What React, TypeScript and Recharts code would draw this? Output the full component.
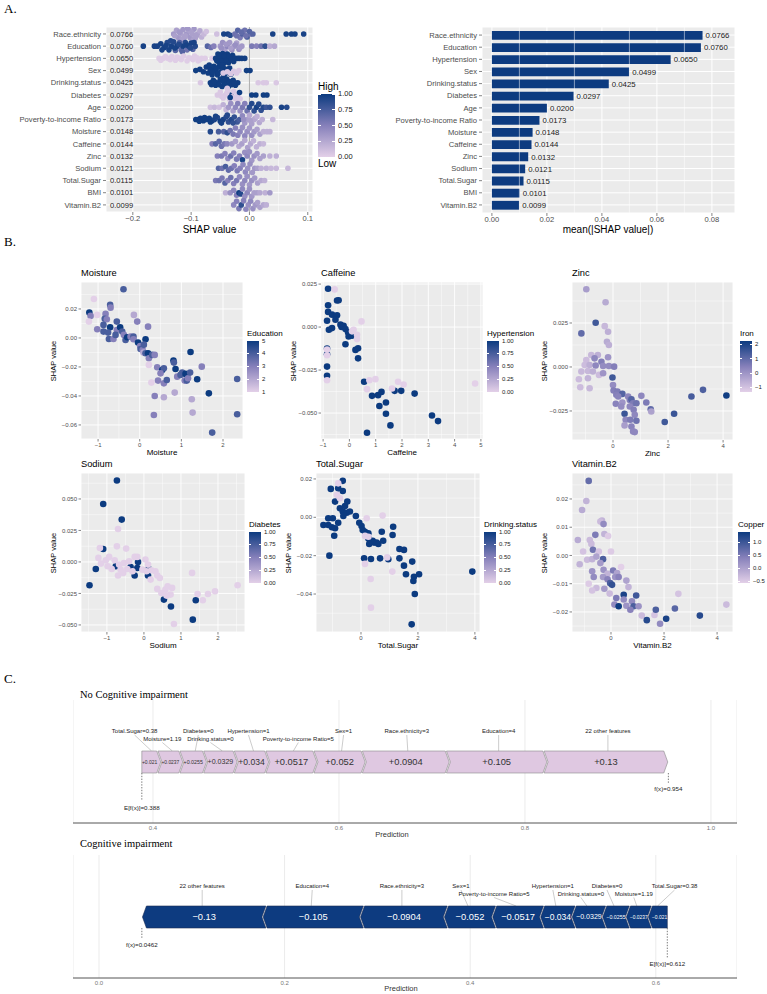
import React from 'react';
import {
  ScatterChart,
  Scatter,
  BarChart,
  Bar,
  XAxis,
  YAxis,
  CartesianGrid,
  ReferenceLine,
  LabelList,
} from 'recharts';

const SANS = '"Liberation Sans", Arial, Helvetica, sans-serif';
const SERIF = '"Liberation Serif", "Times New Roman", serif';

// ---------- A. global importance ----------
const features = [
  'Race.ethnicity', 'Education', 'Hypertension', 'Sex', 'Drinking.status', 'Diabetes', 'Age',
  'Poverty-to-income Ratio', 'Moisture', 'Caffeine', 'Zinc', 'Sodium', 'Total.Sugar', 'BMI', 'Vitamin.B2',
];
const meanAbsShap = [0.0766, 0.076, 0.065, 0.0499, 0.0425, 0.0297, 0.02, 0.0173, 0.0148, 0.0144, 0.0132, 0.0121, 0.0115, 0.0101, 0.0099];

// beeswarm points per feature: [shap value, jitter within the row, scaled feature value]
const swarmRaceEthnicity = [
  [-0.13, 0, 0.35], [-0.125, -0.3, 0.3], [-0.122, 0.3, 0.35], [-0.118, 0, 0.3], [-0.114, -0.35, 0.35], [-0.112, 0.35, 0.3],
  [-0.108, 0, 0.35], [-0.104, -0.3, 0.3], [-0.102, 0.3, 0.35], [-0.098, 0, 0.3], [-0.095, -0.4, 0.35], [-0.093, 0.35, 0.3],
  [-0.089, 0, 0.3], [-0.085, -0.25, 0.25], [-0.082, 0.25, 0.2], [-0.078, 0, 0.15], [-0.074, -0.2, 0.1], [-0.056, 0, 0.1],
  [-0.128, 0.15, 0.3], [-0.12, -0.15, 0.35], [-0.11, 0.15, 0.3], [-0.1, -0.15, 0.3], [-0.091, 0.15, 0.3], [-0.116, 0.45, 0.3],
  [-0.106, -0.45, 0.35], [-0.096, 0.45, 0.3], [-0.044, 0, 0.95], [-0.037, 0, 0.95], [-0.033, 0.1, 0.9], [-0.025, 0, 0.6],
  [-0.02, -0.3, 0.7], [-0.016, 0.3, 0.55], [-0.012, 0, 0.7], [-0.008, -0.3, 0.6], [-0.004, 0.25, 0.75], [0.002, 0, 0.6],
  [0.006, 0, 0.7], [-0.022, 0.15, 0.6], [-0.014, -0.15, 0.65], [-0.006, 0.15, 0.6], [0, -0.2, 0.7], [0.04, 0, 0.95],
  [0.063, 0, 0.95], [0.072, 0, 0.95], [0.078, 0, 0.95], [0.093, 0, 0.95],
];
const swarmEducation = [
  [-0.182, 0, 0.95], [-0.163, 0, 0.95], [-0.158, 0, 0.95], [-0.152, -0.2, 0.95], [-0.146, 0.1, 0.95], [-0.141, -0.3, 0.9],
  [-0.138, 0.3, 0.95], [-0.134, 0, 0.95], [-0.13, -0.35, 0.9], [-0.127, 0.35, 0.7], [-0.124, 0, 0.95], [-0.12, -0.3, 0.7],
  [-0.117, 0.3, 0.65], [-0.114, 0, 0.95], [-0.11, -0.3, 0.9], [-0.107, 0.3, 0.6], [-0.104, 0, 0.9], [-0.1, -0.25, 0.95],
  [-0.097, 0.25, 0.7], [-0.093, 0, 0.9], [-0.15, 0.3, 0.95], [-0.143, -0.05, 0.95], [-0.135, -0.45, 0.9], [-0.128, 0.15, 0.95],
  [-0.121, -0.15, 0.9], [-0.115, 0.45, 0.7], [-0.108, -0.1, 0.95], [-0.101, 0.15, 0.9], [-0.095, -0.3, 0.95], [-0.072, 0, 0.7],
  [-0.066, 0.1, 0.6], [-0.061, 0, 0.5], [-0.05, 0, 0.35], [-0.046, -0.3, 0.4], [-0.042, 0.3, 0.3], [-0.038, 0, 0.45],
  [-0.034, -0.3, 0.35], [-0.03, 0.3, 0.4], [-0.026, 0, 0.35], [-0.022, -0.25, 0.3], [-0.018, 0.25, 0.4], [-0.013, 0, 0.35],
  [-0.048, 0.15, 0.4], [-0.04, -0.15, 0.35], [-0.032, 0.15, 0.3], [-0.024, -0.1, 0.4], [-0.016, 0.1, 0.35], [0.004, 0, 0.55],
  [0.012, 0, 0.5], [0.02, 0, 0.6], [0.027, 0, 0.85], [0.035, 0, 0.2], [0.043, 0, 0.25],
];
const swarmHypertension = [
  [-0.155, 0, 0.02], [-0.148, 0, 0.02], [-0.14, 0, 0.02], [-0.133, -0.15, 0.02], [-0.127, 0.15, 0.02], [-0.12, 0, 0.02],
  [-0.113, -0.2, 0.02], [-0.107, 0.2, 0.02], [-0.1, 0, 0.02], [-0.094, -0.2, 0.02], [-0.088, 0.2, 0.02], [-0.082, 0, 0.02],
  [-0.152, 0.15, 0.02], [-0.144, -0.15, 0.02], [-0.136, 0.1, 0.02], [-0.124, -0.1, 0.02], [-0.117, 0.1, 0.02], [-0.104, -0.05, 0.02],
  [-0.097, 0.1, 0.02], [-0.09, -0.05, 0.02], [-0.085, 0.1, 0.02], [-0.076, 0, 0.02], [-0.064, 0, 0.02], [-0.058, 0, 0.98],
  [-0.054, -0.35, 0.98], [-0.052, 0.35, 0.98], [-0.049, 0, 0.98], [-0.046, -0.4, 0.98], [-0.044, 0.4, 0.98], [-0.041, 0, 0.98],
  [-0.038, -0.35, 0.98], [-0.036, 0.35, 0.98], [-0.033, 0, 0.98], [-0.029, -0.25, 0.98], [-0.027, 0.25, 0.98], [-0.056, 0.2, 0.98],
  [-0.051, -0.15, 0.98], [-0.047, 0.2, 0.98], [-0.043, -0.2, 0.98], [-0.039, 0.15, 0.98], [-0.035, -0.15, 0.98], [-0.031, 0.1, 0.98],
  [-0.024, 0, 0.98], [-0.02, 0, 0.98], [-0.017, 0, 0.98], [-0.013, 0, 0.98], [-0.008, 0, 0.98],
];
const swarmSex = [
  [-0.092, 0, 0.98], [-0.085, -0.1, 0.98], [-0.079, 0.1, 0.98], [-0.074, -0.3, 0.98], [-0.071, 0.2, 0.98], [-0.067, -0.1, 0.98],
  [-0.064, 0.35, 0.98], [-0.061, -0.35, 0.98], [-0.058, 0, 0.98], [-0.055, 0.35, 0.98], [-0.052, -0.3, 0.98], [-0.049, 0.1, 0.98],
  [-0.045, -0.25, 0.98], [-0.042, 0.25, 0.98], [-0.038, 0, 0.98], [-0.034, -0.2, 0.98], [-0.032, 0.3, 0.98], [-0.069, -0.45, 0.98],
  [-0.063, 0.1, 0.98], [-0.057, -0.2, 0.98], [-0.053, 0.2, 0.98], [-0.047, -0.45, 0.98], [-0.044, 0.45, 0.98], [-0.04, -0.1, 0.98],
  [-0.036, 0.15, 0.98], [-0.045, 0.2, 0.05], [-0.038, 0.1, 0.05], [-0.032, 0.25, 0.05], [-0.027, 0.05, 0.05], [-0.022, 0.2, 0.05],
  [-0.018, 0, 0.05], [-0.005, 0, 0.98], [0.001, 0, 0.98],
];
const swarmDrinkingStatus = [
  [-0.084, 0, 0.05], [-0.067, 0, 0.98], [-0.062, -0.2, 0.98], [-0.058, 0.2, 0.98], [-0.054, 0, 0.98], [-0.05, -0.3, 0.98],
  [-0.047, 0.3, 0.98], [-0.043, 0, 0.98], [-0.039, -0.3, 0.98], [-0.036, 0.3, 0.98], [-0.032, 0, 0.98], [-0.028, -0.2, 0.98],
  [-0.024, 0.2, 0.98], [-0.02, 0, 0.98], [-0.065, 0.15, 0.98], [-0.06, -0.1, 0.98], [-0.052, 0.15, 0.98], [-0.045, -0.15, 0.98],
  [-0.041, 0.15, 0.98], [-0.034, -0.1, 0.98], [-0.03, 0.15, 0.98], [-0.026, -0.05, 0.98], [-0.038, 0.45, 0.05], [0.015, 0, 0.05],
  [0.024, 0, 0.05], [0.029, 0, 0.05], [0.046, 0, 0.05],
];
const swarmDiabetes = [
  [-0.055, 0, 0.05], [-0.05, -0.25, 0.05], [-0.045, 0.25, 0.05], [-0.041, 0, 0.05], [-0.037, -0.35, 0.05], [-0.034, 0.35, 0.05],
  [-0.031, 0, 0.98], [-0.027, -0.3, 0.05], [-0.024, 0.3, 0.05], [-0.02, 0, 0.05], [-0.017, -0.2, 0.98], [-0.016, 0.3, 0.05],
  [-0.048, 0.1, 0.05], [-0.039, -0.15, 0.05], [-0.029, 0.15, 0.05], [-0.033, 0.2, 0.98], [0.004, 0, 0.98], [0.011, 0, 0.98],
  [0.024, 0, 0.98], [0.03, 0, 0.98],
];
const swarmAge = [
  [-0.067, 0, 0.1], [-0.06, 0, 0.15], [-0.052, 0, 0.1], [-0.045, -0.2, 0.2], [-0.04, 0.2, 0.15], [-0.036, 0, 0.35],
  [-0.032, -0.3, 0.4], [-0.028, 0.3, 0.3], [-0.024, 0, 0.45], [-0.02, -0.3, 0.5], [-0.016, 0.3, 0.4], [-0.012, 0, 0.55],
  [-0.008, -0.3, 0.5], [-0.004, 0.3, 0.6], [0, 0, 0.85], [0.004, -0.3, 0.9], [0.008, 0.3, 0.85], [0.012, 0, 0.95],
  [0.016, -0.25, 0.9], [0.02, 0.25, 0.85], [0.024, 0, 0.9], [0.029, 0, 0.8], [0.035, 0, 0.85], [0.055, 0, 0.95],
  [0.064, 0, 0.9],
];
const swarmPoverty = [
  [-0.092, 0, 0.98], [-0.088, 0, 0.98], [-0.084, -0.1, 0.98], [-0.079, 0.1, 0.98], [-0.074, 0, 0.98], [-0.069, -0.1, 0.98],
  [-0.064, 0.1, 0.98], [-0.06, 0, 0.95], [-0.055, -0.15, 0.9], [-0.05, 0.15, 0.98], [-0.045, 0, 0.95], [-0.04, -0.2, 0.9],
  [-0.036, 0.2, 0.85], [-0.031, 0, 0.9], [-0.026, -0.2, 0.85], [-0.021, 0.2, 0.8], [-0.017, 0, 0.75], [-0.086, 0.15, 0.98],
  [-0.077, -0.15, 0.98], [-0.067, 0.2, 0.98], [-0.058, -0.25, 0.95], [-0.048, 0.3, 0.95], [-0.038, -0.35, 0.9], [-0.028, 0.3, 0.85],
  [-0.012, -0.3, 0.45], [-0.008, 0.3, 0.35], [-0.004, 0, 0.3], [0, -0.35, 0.25], [0.004, 0.35, 0.3], [0.008, 0, 0.25],
  [-0.01, 0, 0.4], [0.002, 0.1, 0.3], [0.01, -0.1, 0.25], [0.013, -0.25, 0.2], [0.017, 0.25, 0.25], [0.022, 0, 0.2],
  [0.04, 0, 0.15],
];
const swarmMoisture = [
  [-0.067, 0, 0.9], [-0.053, 0, 0.75], [-0.044, 0, 0.7], [-0.038, 0.1, 0.85], [-0.033, -0.1, 0.6], [-0.028, 0.2, 0.55],
  [-0.024, -0.3, 0.5], [-0.02, 0.3, 0.5], [-0.016, 0, 0.45], [-0.012, -0.35, 0.4], [-0.008, 0.35, 0.45], [-0.004, 0, 0.4],
  [0, -0.3, 0.35], [0.004, 0.3, 0.4], [0.008, 0, 0.35], [0.013, -0.2, 0.3], [0.018, 0.2, 0.3], [0.024, 0, 0.2],
  [0.03, 0, 0.2], [0.035, 0, 0.2],
];
const swarmCaffeine = [
  [-0.064, 0, 0.5], [-0.058, 0, 0.7], [-0.052, -0.2, 0.65], [-0.048, 0.2, 0.6], [-0.043, 0, 0.55], [-0.038, 0, 0.45],
  [-0.03, 0, 0.35], [-0.024, -0.2, 0.3], [-0.018, 0.2, 0.25], [-0.013, 0, 0.3], [-0.008, -0.3, 0.25], [-0.003, 0.3, 0.3],
  [0.002, 0, 0.25], [0.007, -0.25, 0.2], [0.012, 0.25, 0.2], [0.018, 0, 0.2], [0.024, 0, 0.15],
];
const swarmZinc = [
  [-0.055, 0, 0.5], [-0.048, 0, 0.55], [-0.042, -0.2, 0.5], [-0.037, 0.2, 0.45], [-0.032, 0, 0.6], [-0.027, -0.25, 0.5],
  [-0.022, 0.25, 0.55], [-0.017, 0, 0.5], [-0.012, 0.3, 0.95], [-0.008, -0.3, 0.4], [-0.004, 0, 0.45], [0, -0.35, 0.4],
  [0.004, 0.35, 0.35], [0.008, 0, 0.4], [0.013, -0.2, 0.35], [0.018, 0.2, 0.3], [0.024, 0, 0.3], [0.035, 0, 0.2],
  [0.046, 0, 0.2],
];
const swarmSodium = [
  [-0.053, 0, 0.7], [-0.047, 0, 0.6], [-0.041, -0.15, 0.75], [-0.036, 0.15, 0.65], [-0.031, 0, 0.6], [-0.026, -0.2, 0.5],
  [-0.021, 0.2, 0.55], [-0.016, 0, 0.5], [-0.011, -0.3, 0.45], [-0.007, 0.3, 0.45], [-0.003, 0, 0.4], [0.001, -0.35, 0.4],
  [0.005, 0.35, 0.35], [0.009, 0, 0.35], [0.014, 0, 0.3], [0.02, 0, 0.2], [0.029, 0, 0.2], [0.037, 0, 0.15],
  [0.046, 0, 0.15], [0.066, 0, 0.15],
];
const swarmTotalSugar = [
  [-0.058, 0, 0.55], [-0.052, 0, 0.6], [-0.047, -0.2, 0.55], [-0.042, 0.2, 0.7], [-0.037, 0, 0.5], [-0.032, -0.25, 0.6],
  [-0.027, 0.25, 0.5], [-0.022, 0, 0.55], [-0.017, -0.3, 0.45], [-0.012, 0.3, 0.4], [-0.008, 0, 0.45], [-0.004, -0.35, 0.4],
  [0, 0.35, 0.35], [0.004, 0, 0.4], [0.009, -0.2, 0.35], [0.014, 0.2, 0.3], [0.02, 0, 0.25], [0.026, 0, 0.2],
];
const swarmBMI = [
  [-0.041, 0, 0.2], [-0.033, 0, 0.4], [-0.027, -0.2, 0.45], [-0.022, 0.2, 0.5], [-0.018, 0, 0.98], [-0.015, 0.1, 0.9],
  [-0.012, -0.3, 0.45], [-0.008, 0.3, 0.4], [-0.004, 0, 0.45], [0, -0.3, 0.4], [0.004, 0.3, 0.35], [0.008, 0, 0.3],
  [0.013, 0, 0.3], [0.018, 0, 0.25], [0.027, 0, 0.2], [0.035, 0, 0.35],
];
const swarmVitaminB2 = [
  [-0.027, 0, 0.45], [-0.022, -0.3, 0.5], [-0.018, 0.3, 0.55], [-0.014, 0, 0.85], [-0.01, -0.35, 0.5], [-0.006, 0.35, 0.45],
  [-0.002, 0, 0.4], [0.002, -0.3, 0.45], [0.006, 0.3, 0.4], [0.01, 0, 0.35], [0.014, -0.2, 0.3], [0.018, 0.2, 0.3],
  [0.024, 0, 0.25], [0.029, 0, 0.2],
];
const swarmRows = [
  swarmRaceEthnicity, swarmEducation, swarmHypertension, swarmSex, swarmDrinkingStatus, swarmDiabetes, swarmAge,
  swarmPoverty, swarmMoisture, swarmCaffeine, swarmZinc, swarmSodium, swarmTotalSugar, swarmBMI, swarmVitaminB2,
];

// ---------- B. dependence plots: [feature value, shap value, colouring feature] ----------
const depMoisture = [
  [-0.39, 0.0336, 4], [-1.1, 0.0269, 1], [-1.21, 0.0175, 5], [-1.18, 0.0152, 3], [-1.22, 0.0113, 1], [-1.02, 0.0159, 1],
  [-0.71, 0.0228, 4], [-0.7, 0.0209, 3], [-0.82, 0.0166, 3], [-0.84, 0.0133, 4], [-0.79, 0.0129, 3], [-1.02, 0.006, 3],
  [-0.87, 0.009, 4], [-0.87, 0.0044, 4], [-0.71, 0.0074, 5], [-0.76, 0.0037, 4], [-0.74, -0.0007, 4], [-0.63, -0.0007, 3],
  [-0.55, 0.0113, 4], [-0.55, 0.0055, 3], [-0.58, 0.0021, 4], [-0.47, 0.0074, 5], [-0.42, 0.0044, 4], [-0.38, 0.0021, 3],
  [-0.34, -0.0014, 4], [-0.3, 0.0005, 5], [-0.22, 0.0009, 3], [-0.15, 0.0009, 4], [-0.15, -0.0009, 3], [-0.14, 0.0159, 2],
  [-0.06, 0.0113, 3], [-0.04, -0.0032, 5], [0.01, -0.0055, 3], [0.02, -0.0076, 4], [0.07, -0.0083, 3], [0.09, -0.0101, 2],
  [0.14, -0.0009, 5], [0.1, -0.0046, 4], [0.2, 0.0078, 3], [0.14, -0.0106, 4], [0.2, -0.0106, 5], [0.22, -0.014, 3],
  [0.3, -0.0117, 4], [0.36, -0.0117, 3], [0.22, -0.0186, 1], [0.28, -0.0308, 1], [0.42, -0.0202, 3], [0.54, -0.0221, 5],
  [0.58, -0.0209, 4], [0.5, -0.0244, 3], [0.44, -0.0294, 3], [0.58, -0.0313, 3], [0.65, -0.029, 4], [0.36, -0.04, 3],
  [0.34, -0.0531, 3], [0.58, -0.0409, 2], [0.81, -0.0156, 5], [0.82, -0.017, 4], [0.86, -0.0214, 5], [0.9, -0.0267, 3],
  [0.98, -0.0255, 4], [1.02, -0.0239, 4], [1.08, -0.0294, 3], [1.1, -0.0248, 5], [1.13, -0.0294, 4], [1.16, -0.0278, 3],
  [1.22, -0.0097, 5], [1.21, -0.0239, 4], [1.25, -0.0423, 2], [1.27, -0.0515, 2], [1.38, -0.0285, 5], [1.49, -0.0198, 3],
  [0.84, -0.0377, 2], [1.66, -0.0382, 5], [1.74, -0.0653, 4], [2.34, -0.0283, 4], [2.34, -0.0526, 4],
];
const depCaffeine = [
  [-0.81, 0.0223, 1], [-0.81, 0.0127, 1], [-0.81, 0.0088, 1], [-0.85, 0.0037, 1], [-0.78, -0.0016, 1], [-0.85, -0.023, 1],
  [-0.85, -0.0283, 1], [-0.66, 0.0072, 1], [-0.66, -0.0006, 1], [-0.47, 0.0154, 1], [-0.41, 0.0156, 1], [-0.47, 0.0068, 1],
  [-0.53, 0.0043, 1], [-0.34, 0.0014, 1], [-0.3, 0, 1], [-0.22, 0.0008, 1], [-0.15, -0.0012, 1], [-0.05, -0.0031, 1],
  [-0.03, -0.0055, 1], [0.1, -0.0051, 1], [-0.15, -0.01, 1], [0.23, -0.0133, 1], [0.33, -0.0123, 1], [0.33, -0.0182, 1],
  [0.56, -0.0318, 1], [0.86, -0.04, 1], [1.09, -0.0396, 1], [1.22, -0.0377, 1], [1.14, -0.0459, 1], [1.39, -0.0439, 1],
  [1.39, -0.0504, 1], [1.56, -0.0572, 1], [1.72, -0.0371, 1], [1.97, -0.0371, 1], [2.48, -0.0387, 1], [3.14, -0.0514, 1],
  [3.37, -0.0547, 1], [0.67, -0.0615, 1], [-0.85, -0.0125, 1], [-0.85, -0.0158, 1],
  [-0.56, 0.0219, 0], [-0.85, -0.0131, 0], [-0.85, -0.0164, 0], [-0.85, -0.0309, 0], [0.46, 0.0033, 0], [0.16, -0.0016, 0],
  [0.29, -0.0045, 0], [0.29, -0.007, 0], [0.99, -0.0303, 0], [0.76, -0.0309, 0], [0.67, -0.0361, 0], [1.62, -0.0357, 0],
  [1.85, -0.0318, 0], [2.06, -0.0334, 0], [4.78, -0.0328, 0], [0.1, -0.0025, 0],
];
const depZinc = [
  [-0.97, 0.0442, -0.2], [-0.27, 0.0368, -0.5], [-0.63, 0.0251, 1.5], [-0.3, 0.0232, -0.8], [-0.18, 0.02, -0.6], [-1.15, 0.0191, 1],
  [-0.22, 0.0143, -0.5], [-0.15, 0.0125, -0.6], [-0.18, 0.0055, 0], [-0.79, 0.0068, -0.8], [-0.55, 0.0068, -0.6], [-0.67, 0.0049, 0.3],
  [-0.42, 0.003, 0.5], [-0.97, 0.004, -0.9], [-1.03, 0.0011, -0.9], [-0.85, 0.0011, -0.6], [-0.63, 0.0008, 0.3], [-0.36, 0.0006, 0.2],
  [-0.15, 0.0006, 0.2], [0.04, 0.0002, 0.5], [-1.15, -0.0026, -0.8], [-0.91, -0.0023, -0.8], [-0.73, -0.0026, -0.6], [-0.51, -0.0045, -0.9],
  [-0.36, -0.0036, 0], [-1.24, -0.007, -0.9], [-0.91, -0.0064, -0.7], [-1.19, -0.0115, -0.9], [-0.85, -0.0121, -0.8], [-0.02, -0.006, 1.5],
  [0, -0.0102, 0.2], [0.02, -0.0134, 0.5], [0.16, -0.014, 0.6], [0.34, -0.0153, 1.2], [0.12, -0.0158, 0.5], [0.19, -0.0168, 0.4],
  [0.1, -0.0209, 0.4], [0.34, -0.0202, 0], [0.3, -0.0225, 0.2], [0.55, -0.0168, 0.3], [0.61, -0.0187, 0.5], [0.67, -0.0183, 1.2],
  [0.73, -0.0206, 0.6], [0.85, -0.0206, 0.8], [0.61, -0.0225, 0.3], [0.75, -0.0243, 0.5], [0.42, -0.0266, 1.6], [0.79, -0.0272, 0.3],
  [0.46, -0.03, 0.3], [0.63, -0.03, 0.6], [0.85, -0.0306, 0.8], [0.42, -0.0332, -0.2], [0.67, -0.0338, 0.4], [0.73, -0.0366, 0.3],
  [0.79, -0.037, 0.3], [1.03, -0.0164, 0.3], [1.21, -0.0202, 0.6], [1.37, -0.024, 1], [1.39, -0.0253, -0.3], [1.88, -0.0313, 1.5],
  [2.22, -0.0266, 1.6], [2.85, -0.0168, 1.4], [3.27, -0.013, 1.3], [4.12, -0.0162, 2.2],
];
const depSodium = [
  [-0.73, 0.0646, 1], [-1.1, 0.046, 1], [-0.6, 0.0336, 1], [-1.1, 0.0103, 1], [-1.3, -0.0056, 1], [-1.47, -0.0185, 1],
  [-0.76, -0.0034, 1], [-0.36, -0.004, 1], [-0.18, -0.0048, 1], [-0.16, 0, 1], [-0.25, -0.0108, 1], [0.11, -0.0108, 1],
  [0.13, -0.0056, 1], [0.54, -0.0299, 1], [0.73, -0.0354, 1], [1.4, -0.0304, 1], [1.32, -0.0458, 1],
  [-0.7, 0.0262, 0], [-0.73, 0.0124, 0], [-0.48, 0.0106, 0], [-1.19, 0.0111, 0], [-1.23, 0.0032, 0], [-1.16, -0.0013, 0],
  [-1.03, 0.0013, 0], [-0.94, 0.004, 0], [-0.98, -0.0034, 0], [-0.87, -0.0056, 0], [-0.79, 0.0013, 0], [-0.67, -0.0021, 0],
  [-0.63, -0.0061, 0], [-0.54, -0.0008, 0], [-0.45, -0.0056, 0], [-0.4, 0.0005, 0], [-0.7, -0.0108, 0], [-0.56, -0.0087, 0],
  [-0.31, -0.0074, 0], [-0.25, 0.004, 0], [0.04, 0.0019, 0], [-0.04, -0.0061, 0], [0.07, -0.0074, 0], [0.2, -0.0066, 0],
  [0.31, -0.0074, 0], [0.36, -0.0108, 0], [0.43, -0.0127, 0], [0.18, -0.014, 0], [0.36, -0.0214, 0], [0.47, -0.0246, 0],
  [0.58, -0.022, 0], [0.64, -0.0193, 0], [0.76, -0.0206, 0], [0.72, -0.0259, 0], [0.61, -0.0267, 0], [1.3, -0.0087, 0],
  [1.45, -0.0254, 0], [1.59, -0.0304, 0], [1.73, -0.0254, 0], [1.92, -0.0233, 0], [2.53, -0.0185, 0], [0.81, -0.0492, 0],
  [-0.18, 0.004, 0], [0.11, -0.0021, 0],
];
const depTotalSugar = [
  [-0.64, 0.019, 1], [-1.06, 0.0148, 1], [-0.8, 0.0151, 1], [-0.64, 0.0137, 1], [-0.91, 0.0082, 1], [-0.48, 0.0082, 1],
  [-0.74, 0.0047, 1], [-0.64, 0.003, 1], [-0.56, 0.0059, 1], [-0.5, 0.0024, 1], [-0.39, 0.003, 1], [-0.62, 0.0007, 1],
  [-1.32, -0.004, 1], [-1.15, -0.004, 1], [-1.15, -0.0005, 1], [-0.99, -0.0005, 1], [-1.02, -0.0052, 1], [-0.91, -0.0057, 1],
  [-0.94, -0.0096, 1], [-0.8, -0.0028, 1], [-1.11, -0.02, 1], [-0.18, 0.0007, 1], [-0.06, -0.0028, 1], [0.02, -0.0045, 1],
  [0.06, -0.0066, 1], [0.14, -0.0075, 1], [0.18, -0.0092, 1], [0.26, -0.0083, 1], [0.26, -0.011, 1], [0.32, -0.0123, 1],
  [0.41, -0.0123, 1], [0.46, -0.0132, 1], [0.55, -0.0132, 1], [0.61, -0.0139, 1], [0.29, -0.0139, 1], [0.73, -0.0075, 1],
  [0.78, -0.0122, 1], [1.13, -0.0049, 1], [1.11, -0.0092, 1], [1.35, -0.0165, 1], [1.51, -0.017, 1], [0.11, -0.0214, 1],
  [0.35, -0.0217, 1], [0.67, -0.0214, 1], [1.35, -0.0214, 1], [0.96, -0.0219, 1], [1.51, -0.0252, 1], [1.8, -0.0231, 1],
  [1.58, -0.0297, 1], [1.86, -0.031, 1], [2.04, -0.0297, 1], [1.84, -0.0332, 1], [1.89, -0.04, 1], [1.78, -0.0558, 1],
  [3.91, -0.0283, 1],
  [-0.8, 0.0177, 0], [-0.85, 0.0117, 0], [-0.74, 0.0099, 0], [0.76, 0.0009, 0], [0.2, -0.0005, 0], [0.14, -0.0097, 0],
  [0.26, -0.0101, 0], [0.92, -0.0209, 0], [0.14, -0.0243, 0], [1.1, -0.0283, 0], [0.34, -0.0322, 0], [0.35, -0.0471, 0],
];
const depVitaminB2 = [
  [-0.84, 0.0264, 0.7], [-0.93, 0.0193, -0.2], [-1.09, 0.0161, -0.1], [-0.34, 0.0124, -0.2], [-0.4, 0.012, -0.3], [-0.28, 0.0111, 0.3],
  [-0.59, 0.0073, 0.5], [-0.25, 0.0076, -0.2], [-0.11, 0.0069, -0.5], [-1.25, 0.0055, -0.1], [-0.8, 0.0055, -0.3], [-0.74, 0.0041, -0.3],
  [-0.68, 0.002, 0.6], [-1.05, 0.0014, -0.4], [-0.46, 0.0014, -0.4], [0, 0.0014, -0.5], [-0.9, -0.0015, -0.3], [-0.71, -0.0013, -0.2],
  [-0.55, -0.0004, 0], [-0.3, -0.0013, 0.9], [-1.18, -0.0031, -0.2], [-0.4, -0.0027, 0.1], [-0.28, -0.0051, 0.2], [-0.13, -0.0065, -0.2],
  [0.08, -0.0053, 0.5], [0.23, -0.0062, 0], [0.38, -0.0041, -0.6], [-0.71, -0.0056, 0.2], [-0.65, -0.0076, 0.3], [-0.3, -0.0076, 0.1],
  [-0.13, -0.0084, 0.4], [-0.03, -0.0098, 0.9], [0.16, -0.0076, 0.2], [0.29, -0.0076, 0.4], [-0.84, -0.01, -0.5], [-0.55, -0.0115, -0.3],
  [-0.71, -0.0124, -0.4], [-0.25, -0.0118, 0.1], [-0.05, -0.0135, -0.3], [0.04, -0.0104, 1.1], [0.58, -0.0089, 0], [0.66, -0.0112, -0.2],
  [0.48, -0.0139, 1.3], [0.2, -0.0151, 0.5], [0.13, -0.0174, 0.3], [0.29, -0.018, 1.4], [0.48, -0.0156, 0.3], [0.58, -0.0178, 0.2],
  [0.79, -0.0162, 0.3], [0.95, -0.0142, 1], [0.85, -0.018, 0.9], [0.73, -0.0192, 0.4], [1.04, -0.018, 0.2], [1.16, -0.0213, -0.3],
  [1.35, -0.0229, 1.2], [1.64, -0.0211, -0.4], [1.69, -0.0192, 0.9], [1.85, -0.0242, 0.3], [2.08, -0.0224, 1.3], [2.41, -0.0188, 0.8],
  [2.54, -0.0136, -0.4], [3.35, -0.0213, 1.2], [4.35, -0.0174, -0.3],
];

// ---------- C. force plots ----------
const forceLabels = [
  'Total.Sugar=0.38', 'Moisture=1.19', 'Diabetes=0', 'Drinking.status=0', 'Hypertension=1',
  'Poverty-to-income Ratio=5', 'Sex=1', 'Race.ethnicity=3', 'Education=4', '22 other features',
];
const noImpairmentShap = [0.021, 0.0237, 0.0255, 0.0329, 0.034, 0.0517, 0.052, 0.0904, 0.105, 0.13];
const impairmentShap = [-0.021, -0.0237, -0.0255, -0.0329, -0.034, -0.0517, -0.052, -0.0904, -0.105, -0.13];
const noImpairmentBase = 0.388;
const noImpairmentFx = 0.954;
const impairmentBase = 0.612;
const impairmentFx = 0.0462;

// ---------- colour ramp (low lavender -> high navy) ----------
const LOW = [227, 208, 232];
const MID = [134, 128, 186];
const HIGH = [12, 59, 128];
const NAVY = '#0D3B80';
const GRADIENT = 'linear-gradient(to top, rgb(227,208,232), rgb(134,128,186), rgb(12,59,128))';

function ramp(t: number) {
  const u = Math.max(0, Math.min(1, t));
  const [a, b, f] = u < 0.5 ? [LOW, MID, u * 2] : [MID, HIGH, (u - 0.5) * 2];
  return `rgb(${a.map((v, i) => Math.round(v + (b[i] - v) * f)).join(',')})`;
}

const minus = (v: number, d: number) => (v < 0 ? '\u2212' : '') + Math.abs(v).toFixed(d);

function Txt({ x, y, size, children, align = 'left', font = SANS, color = '#000', rotate = false }: any) {
  const tx = align === 'center' ? '-50%' : align === 'right' ? '-100%' : '0';
  return (
    <div
      style={{
        position: 'absolute', left: x, top: y, fontSize: size, fontFamily: font, color, lineHeight: 1,
        whiteSpace: 'nowrap', transform: `translate(${tx}, -50%)${rotate ? ' rotate(-90deg)' : ''}`,
      }}
    >
      {children}
    </div>
  );
}

function ColorBar({ x, y, w, h, lo, hi, ticks, fmt, size }: any) {
  return (
    <>
      <div style={{ position: 'absolute', left: x, top: y, width: w, height: h, background: GRADIENT }} />
      {ticks.map((t: number) => {
        const ty = y + (h * (hi - t)) / (hi - lo);
        return (
          <React.Fragment key={t}>
            <div style={{ position: 'absolute', left: x, top: ty - 0.3, width: w * 0.2, height: 0.6, background: '#fff' }} />
            <div style={{ position: 'absolute', left: x + w * 0.8, top: ty - 0.3, width: w * 0.2, height: 0.6, background: '#fff' }} />
            <Txt x={x + w + 3} y={ty} size={size} color="#1A1A1A">{fmt(t)}</Txt>
          </React.Fragment>
        );
      })}
    </>
  );
}

const axisTick = { fontSize: 7.6, fill: '#4D4D4D', fontFamily: SANS };
const tickLine = { stroke: '#333', strokeWidth: 0.6 };

function SwarmTick(props: any) {
  const { y, payload } = props;
  const i = payload.value;
  return (
    <g fontFamily={SANS} fontSize={7.6}>
      <text x={101} y={y} dy="0.35em" textAnchor="end" fill="#4D4D4D">{features[i]}</text>
      <text x={110} y={y} dy="0.35em" fill="#1A1A1A">{meanAbsShap[i].toFixed(4)}</text>
    </g>
  );
}

// single-line category label (no wrapping)
function NameTick({ x, y, payload }: any) {
  return (
    <text x={x} y={y} dy="0.35em" textAnchor="end" {...axisTick}>{payload.value}</text>
  );
}

function Beeswarm() {
  const pts = swarmRows.flatMap((row, r) => row.map(([s, dy, c]) => ({ x: s, y: r + dy, c })));
  return (
    <div style={{ position: 'absolute', left: 0, top: 0 }}>
      <ScatterChart width={315} height={232} margin={{ top: 27, right: 2, bottom: 0, left: 0 }}>
        <CartesianGrid fill="#EBEBEB" stroke="#fff" strokeWidth={1} />
        {[-0.15, -0.05, 0.05].map((v) => (
          <ReferenceLine key={v} x={v} stroke="#fff" strokeWidth={0.5} />
        ))}
        <ReferenceLine x={0} stroke="#999" strokeWidth={0.8} />
        <XAxis type="number" dataKey="x" domain={[-0.246, 0.109]} ticks={[-0.2, -0.1, 0, 0.1]} allowDataOverflow interval={0}
          height={20} tickSize={3} tickMargin={1} axisLine={false} tickLine={tickLine} tick={axisTick}
          tickFormatter={(v: number) => minus(v, 1)} />
        <YAxis type="number" dataKey="y" reversed domain={[-0.57, 14.58]} ticks={features.map((_, i) => i)} allowDataOverflow
          interval={0} width={106} tickSize={3} axisLine={false} tickLine={tickLine} tick={(p: any) => <SwarmTick {...p} />} />
        <Scatter data={pts} isAnimationActive={false}
          shape={(p: any) => <circle cx={p.cx} cy={p.cy} r={2.8} fill={ramp(p.payload.c)} />} />
      </ScatterChart>
    </div>
  );
}

function ImportanceBars() {
  const rows = features.map((name, i) => ({ name, v: meanAbsShap[i] }));
  return (
    <div style={{ position: 'absolute', left: 380, top: 0 }}>
      <BarChart layout="vertical" width={357} height={232} data={rows} margin={{ top: 27, right: 2, bottom: 0, left: 0 }} barSize={8.8}>
        <CartesianGrid fill="#EBEBEB" stroke="#fff" strokeWidth={1} />
        {[0.01, 0.03, 0.05, 0.07].map((v) => (
          <ReferenceLine key={v} x={v} stroke="#fff" strokeWidth={0.5} />
        ))}
        <XAxis type="number" domain={[-0.0036, 0.0884]} ticks={[0, 0.02, 0.04, 0.06, 0.08]} allowDataOverflow interval={0}
          height={19} tickSize={3} tickMargin={0.5} axisLine={false} tickLine={tickLine} tick={axisTick}
          tickFormatter={(v: number) => v.toFixed(2)} />
        <YAxis type="category" dataKey="name" width={102} tickSize={3} tickMargin={2} axisLine={false} tickLine={tickLine}
          tick={(p: any) => <NameTick {...p} />} interval={0} padding={{ top: 2, bottom: 2 }} />
        <Bar dataKey="v" fill={NAVY} isAnimationActive={false}>
          <LabelList dataKey="v" position="right" offset={3} fontSize={7.8} fill="#1A1A1A" fontFamily={SANS}
            formatter={(v: number) => v.toFixed(4)} />
        </Bar>
      </BarChart>
    </div>
  );
}

const binaryLegend = { range: [0, 1], ticks: [0, 0.25, 0.5, 0.75, 1], fmt: (v: number) => v.toFixed(2) };

const depPlots = [
  {
    box: [81, 282, 162, 157], title: 'Moisture', data: depMoisture, xDomain: [-1.41, 2.48], yDomain: [-0.0697, 0.0386],
    xTicks: [-1, 0, 1, 2], yTicks: [-0.06, -0.04, -0.02, 0, 0.02], xMinor: [-0.5, 0.5, 1.5], yMinor: [-0.05, -0.03, -0.01, 0.01, 0.03],
    yDigits: 2, legend: { x: 247, title: 'Education', range: [1, 5], ticks: [1, 2, 3, 4, 5], fmt: (v: number) => String(v) },
  },
  {
    box: [321, 282, 162, 157], title: 'Caffeine', data: depCaffeine, xDomain: [-1.08, 5.08], yDomain: [-0.0651, 0.0262],
    xTicks: [-1, 0, 1, 2, 3, 4, 5], yTicks: [-0.05, -0.025, 0, 0.025], xMinor: [-0.5, 0.5, 1.5, 2.5, 3.5, 4.5],
    yMinor: [-0.0625, -0.0375, -0.0125, 0.0125], yDigits: 3, legend: { x: 487, title: 'Hypertension', ...binaryLegend },
  },
  {
    box: [572, 282, 161, 158], title: 'Zinc', data: depZinc, xDomain: [-1.49, 4.36], yDomain: [-0.0415, 0.0483],
    xTicks: [0, 2, 4], yTicks: [-0.025, 0, 0.025], xMinor: [-1, 1, 3], yMinor: [-0.0375, -0.0125, 0.0125, 0.0375],
    yDigits: 3, legend: { x: 740, title: 'Iron', range: [-1.35, 2.28], ticks: [-1, 0, 1, 2], fmt: (v: number) => minus(v, 0) },
  },
  {
    box: [81, 473, 164, 159], title: 'Sodium', data: depSodium, xDomain: [-1.7, 2.73], yDomain: [-0.0556, 0.0706],
    xTicks: [-1, 0, 1, 2], yTicks: [-0.05, -0.025, 0, 0.025, 0.05], xMinor: [-1.5, -0.5, 0.5, 1.5, 2.5],
    yMinor: [-0.0375, -0.0125, 0.0125, 0.0375, 0.0625], yDigits: 3, legend: { x: 249, title: 'Diabetes', ...binaryLegend },
  },
  {
    box: [316, 473, 164, 159], title: 'Total.Sugar', data: depTotalSugar, xDomain: [-1.58, 4.18], yDomain: [-0.0598, 0.0231],
    xTicks: [0, 2, 4], yTicks: [-0.04, -0.02, 0, 0.02], xMinor: [-1, 1, 3], yMinor: [-0.05, -0.03, -0.01, 0.01],
    yDigits: 2, legend: { x: 484, title: 'Drinking.status', ...binaryLegend },
  },
  {
    box: [572, 473, 161, 159], title: 'Vitamin.B2', data: depVitaminB2, xDomain: [-1.47, 4.6], yDomain: [-0.0271, 0.0292],
    xTicks: [0, 2, 4], yTicks: [-0.02, -0.01, 0, 0.01, 0.02], xMinor: [-1, 1, 3], yMinor: [-0.025, -0.015, -0.005, 0.005, 0.015, 0.025],
    yDigits: 2, legend: { x: 738, title: 'Copper', range: [-0.56, 1.42], ticks: [-0.5, 0, 0.5, 1], fmt: (v: number) => minus(v, 1) },
  },
];

function DepPlot({ cfg }: any) {
  const { box, title, data, xDomain, yDomain, xTicks, yTicks, xMinor, yMinor, yDigits, legend } = cfg;
  const [l, t, w, h] = box;
  const [lo, hi] = legend.range;
  const pts = data.map(([x, y, c]: number[]) => ({ x, y, c }));
  const small = { fontSize: 6, fill: '#4D4D4D', fontFamily: SANS };
  return (
    <>
      <Txt x={l} y={t - 8} size={9.3}>{title}</Txt>
      <div style={{ position: 'absolute', left: l - 40, top: t }}>
        <ScatterChart width={w + 42} height={h + 13} margin={{ top: 0, right: 2, bottom: 0, left: 0 }}>
          <CartesianGrid fill="#EBEBEB" stroke="#fff" strokeWidth={0.9} />
          {xMinor.map((v: number) => <ReferenceLine key={'x' + v} x={v} stroke="#fff" strokeWidth={0.45} />)}
          {yMinor.map((v: number) => <ReferenceLine key={'y' + v} y={v} stroke="#fff" strokeWidth={0.45} />)}
          <XAxis type="number" dataKey="x" domain={xDomain} ticks={xTicks} allowDataOverflow interval={0} height={13}
            tickSize={2.5} tickMargin={1} axisLine={false} tickLine={tickLine} tick={small}
            tickFormatter={(v: number) => minus(v, 0)} />
          <YAxis type="number" dataKey="y" domain={yDomain} ticks={yTicks} allowDataOverflow interval={0} width={40}
            tickSize={2.5} tickMargin={1.5} axisLine={false} tickLine={tickLine} tick={small}
            tickFormatter={(v: number) => minus(v, yDigits)} />
          <Scatter data={pts} isAnimationActive={false}
            shape={(p: any) => <circle cx={p.cx} cy={p.cy} r={3.3} fill={ramp((p.payload.c - lo) / (hi - lo))} />} />
        </ScatterChart>
      </div>
      <Txt x={l + w / 2} y={t + h + 13.5} size={8} align="center">{title}</Txt>
      <Txt x={l - 27} y={t + h / 2} size={7.5} align="center" rotate>SHAP value</Txt>
      <Txt x={legend.x} y={t + 51.5} size={8}>{legend.title}</Txt>
      <ColorBar x={legend.x} y={t + 58.5} w={12} h={51.5} lo={lo} hi={hi} ticks={legend.ticks} fmt={legend.fmt} size={6} />
    </>
  );
}

// one arrow block of a force plot, plus its feature label and the base / output markers
function Chevron({ x, y, width, height, seg }: any) {
  const { j, n, positive, label, value, dx, row, startMark, endMark } = seg;
  const a = 4;
  const g = 0.6;
  const x0 = x;
  const x1 = x + width;
  const yt = y;
  const yb = y + height;
  const ym = y + height / 2;
  let pts: number[][];
  if (positive) {
    pts = j === 0
      ? [[x0, yt], [x1 - a - g, yt], [x1 - g, ym], [x1 - a - g, yb], [x0, yb]]
      : [[x0 - a + g, yt], [x1 - a - g, yt], [x1 - g, ym], [x1 - a - g, yb], [x0 - a + g, yb], [x0 + g, ym]];
  } else {
    pts = j === n - 1
      ? [[x0 + g, ym], [x0 + a + g, yt], [x1, yt], [x1, yb], [x0 + a + g, yb]]
      : [[x0 + g, ym], [x0 + a + g, yt], [x1 + a - g, yt], [x1 - g, ym], [x1 + a - g, yb], [x0 + a + g, yb]];
  }
  const vt = (value > 0 ? '+' : '\u2212') + Math.abs(value);
  const fs = Math.min(9.3, (width - 3) / (vt.length * 0.556));
  const cx = (x0 + x1) / 2 + (positive ? -a / 2 : a / 2);
  const mid = (x0 + x1) / 2;
  const lx = mid + dx;
  const ly = yt + (row === 0 ? -18 : -10.5);
  const mark = (mx: number, m: any) => (
    <g>
      <line x1={mx} x2={mx} y1={yb} y2={yb + m.len} stroke="#444" strokeWidth={0.7} strokeDasharray="1.4 1.4" />
      <text x={mx} y={yb + m.ty} dy="0.35em" textAnchor="middle" fontSize={6.2} fill="#222">{m.text}</text>
    </g>
  );
  return (
    <g fontFamily={SANS}>
      <line x1={lx} y1={ly + 2} x2={mid} y2={yt} stroke="#aaa" strokeWidth={0.6} />
      <text x={lx} y={ly} textAnchor="middle" fontSize={6} fill="#222">{label}</text>
      <polygon points={pts.map((p) => p.join(',')).join(' ')} fill={positive ? '#DFC8E1' : NAVY}
        stroke={positive ? '#8A8A8A' : '#1C2E52'} strokeWidth={0.6} />
      <text x={cx} y={ym} dy="0.35em" textAnchor="middle" fontSize={fs} fill={positive ? '#333' : '#fff'}>{vt}</text>
      {j === 0 && startMark ? mark(x0, startMark) : null}
      {j === n - 1 && endMark ? mark(x1, endMark) : null}
    </g>
  );
}

function ForcePlot({ top, shap, base, fx, domain, ticks, dxs, rows, startMark, endMark }: any) {
  const n = shap.length;
  const positive = shap[0] > 0;
  const order = positive ? shap.map((_: number, i: number) => i) : shap.map((_: number, i: number) => n - 1 - i);
  const datum: any = { name: 'f', start: positive ? base : fx };
  order.forEach((k: number, j: number) => { datum['s' + j] = Math.abs(shap[k]); });
  const segs = order.map((k: number, j: number) => ({
    j, n, positive, label: forceLabels[k], value: shap[k], dx: dxs[k], row: rows[k], startMark, endMark,
  }));
  return (
    <div style={{ position: 'absolute', left: 73, top }}>
      <BarChart layout="vertical" width={664} height={139} data={[datum]} margin={{ top: 0, right: 0, bottom: 0, left: 0 }} barSize={22}>
        <CartesianGrid horizontal={false} stroke="#E6E6E6" strokeWidth={0.8} />
        <XAxis type="number" domain={domain} ticks={ticks} allowDataOverflow interval={0} height={16} tickSize={0} tickMargin={3}
          axisLine={{ stroke: '#555', strokeWidth: 1 }} tickLine={false} tick={{ fontSize: 6, fill: '#777', fontFamily: SANS }}
          tickFormatter={(v: number) => v.toFixed(1)} />
        <YAxis type="category" dataKey="name" hide />
        <Bar dataKey="start" stackId="f" fill="none" isAnimationActive={false} />
        {segs.map((seg: any) => (
          <Bar key={seg.j} dataKey={'s' + seg.j} stackId="f" isAnimationActive={false}
            shape={(p: any) => <Chevron {...p} seg={seg} />} />
        ))}
      </BarChart>
    </div>
  );
}

export default function App() {
  return (
    <div style={{ position: 'absolute', left: 0, top: 0, width: 767, height: 994, background: '#fff', overflow: 'hidden', fontFamily: SANS }}>
      <Txt x={4} y={8} size={13} font={SERIF}>A.</Txt>
      <Beeswarm />
      <Txt x={318} y={87} size={10}>High</Txt>
      <ColorBar x={318} y={94} w={17} h={63} lo={0} hi={1} ticks={[0, 0.25, 0.5, 0.75, 1]} fmt={(v: number) => v.toFixed(2)} size={7.5} />
      <Txt x={318} y={164} size={10}>Low</Txt>
      <Txt x={209.5} y={230} size={10} align="center">SHAP value</Txt>
      <ImportanceBars />
      <Txt x={608} y={230} size={10} align="center">mean(|SHAP value|)</Txt>

      <Txt x={4} y={241} size={13} font={SERIF}>B.</Txt>
      {depPlots.map((cfg) => <DepPlot key={cfg.title} cfg={cfg} />)}

      <Txt x={4} y={678} size={13} font={SERIF}>C.</Txt>
      <Txt x={80} y={695} size={10.5} font={SERIF}>No Cognitive impairment</Txt>
      <ForcePlot top={700} shap={noImpairmentShap} base={noImpairmentBase} fx={noImpairmentFx}
        domain={[0.314, 1.028]} ticks={[0.4, 0.6, 0.8, 1.0]}
        dxs={[-17, -10, 3, -12, -5, 5, 2, -1, 0, 0]} rows={[0, 1, 0, 1, 0, 1, 0, 0, 0, 0]}
        startMark={{ text: `E[f(x)]=${noImpairmentBase}`, len: 28, ty: 35 }}
        endMark={{ text: `f(x)=${noImpairmentFx}`, len: 10, ty: 16 }} />
      <Txt x={392} y={835} size={7.5} align="center" color="#333">Prediction</Txt>

      <Txt x={80} y={844} size={10.5} font={SERIF}>Cognitive impairment</Txt>
      <ForcePlot top={855} shap={impairmentShap} base={impairmentBase} fx={impairmentFx}
        domain={[-0.028, 0.6875]} ticks={[0, 0.2, 0.4, 0.6]}
        dxs={[17, -3, -7, -6, -3, -22, -7, 0, 1, 0]} rows={[0, 1, 0, 1, 0, 1, 0, 0, 0, 0]}
        startMark={{ text: `f(x)=${impairmentFx}`, len: 10, ty: 17 }}
        endMark={{ text: `E[f(x)]=${impairmentBase}`, len: 30, ty: 36 }} />
      <Txt x={401} y={989} size={7.5} align="center" color="#333">Prediction</Txt>
    </div>
  );
}
